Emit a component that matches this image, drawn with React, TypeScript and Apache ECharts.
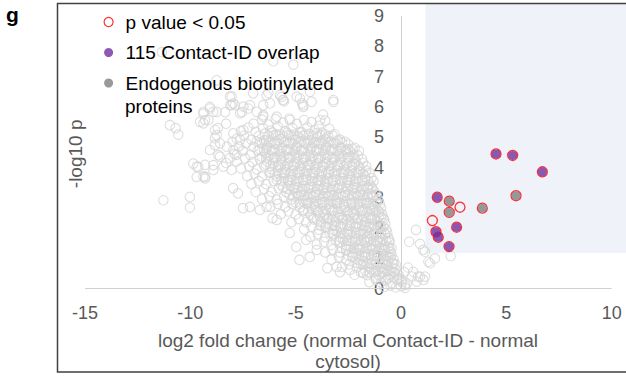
import { useEffect, useRef } from 'react';
import * as echarts from 'echarts';

// ---------- data ----------
const X_MIN = -15;
const X_LAST_TICK = 10;
const X_MAX = 10.68; // plot area continues a little past the last tick
const Y_MIN = 0;
const Y_LAST_TICK = 9;
const Y_MAX = 9.4;
const X_INTERVAL = 5;
const Y_INTERVAL = 1;

// shaded "enriched" region (lower-left corner, data units)
const SHADE_X0 = 1.16;
const SHADE_Y0 = 1.18;

const SERIES_ALL = 'all proteins';
const SERIES_SIG = 'p value < 0.05';
const SERIES_CID = '115 Contact-ID overlap';
const SERIES_ENDO = 'Endogenous biotinylated proteins';

const X_TITLE = 'log2 fold change (normal Contact-ID - normal\ncytosol)';
const Y_TITLE = '-log10 p';

// sparse outlying proteins (left / top of the cloud)
const bgSparse: [number, number][] = [
  [-11.35, 7.81], [-6.06, 7.51], [-5.11, 7.4], [-8.75, 6.88], [-8.04, 6.34], [-7.02, 6.45],
  [-6.3, 6.47], [-5.67, 6.33], [-5.55, 6.18], [-4.8, 6.28], [-4.64, 6.0], [-4.32, 6.5],
  [-3.21, 6.23], [-7.88, 6.06], [-9.07, 6.0], [-9.38, 5.78], [-9.54, 5.51], [-8.91, 5.84],
  [-10.97, 5.4], [-10.57, 5.09], [-10.7, 5.3], [-11.28, 2.92], [-10.02, 3.03], [-10.02, 2.68],
  [-9.86, 4.13], [-9.62, 4.02], [-9.7, 3.69], [-9.3, 3.64], [-8.91, 4.08], [-8.67, 4.41],
  [-8.83, 4.74], [-8.75, 5.07], [-7.97, 6.12], [-7.25, 5.95], [-6.54, 5.73], [-5.6, 6.23],
  [-4.7, 6.12], [-3.84, 5.57], [-9.3, 5.57], [-8.7, 5.3], [-8.35, 5.83], [-8.1, 6.06],
  [-7.55, 5.83], [-6.54, 6.06], [-3.7, 5.75], [-9.7, 4.03], [-9.3, 3.7], [-7.97, 3.32],
  [-7.74, 3.15], [-7.5, 2.66], [-7.17, 2.7], [-6.7, 2.6], [-6.38, 2.7], [-5.9, 2.27],
  [-6.1, 2.33], [-5.28, 1.84], [-4.97, 1.38], [-4.82, 0.95], [-4.5, 1.61], [-4.33, 1.05],
  [-4.0, 1.28], [-3.5, 0.68], [-3.06, 0.72], [-2.42, 0.62], [-1.8, 0.52], [-2.9, 0.55],
];

// looser group left of and above the main body
const bgLeftFringe: [number, number][] = [
  [-9.38, 5.84], [-9.07, 5.95], [-8.75, 5.84], [-9.14, 5.57], [-9.38, 5.46], [-8.83, 5.24],
  [-8.83, 4.97], [-8.59, 4.8], [-8.27, 4.69], [-7.96, 4.58], [-9.07, 4.58], [-8.59, 4.36],
  [-8.12, 4.31], [-7.8, 4.42], [-9.3, 4.09], [-8.91, 3.92], [-8.43, 4.03], [-8.04, 3.92],
  [-9.38, 3.7], [-7.64, 4.91], [-7.96, 5.13], [-7.48, 5.24], [-7.64, 5.79], [-7.48, 6.01],
  [-7.17, 6.06], [-8.12, 6.34], [-8.04, 6.06], [-6.85, 5.84], [-6.38, 6.39], [-6.22, 6.12],
  [-5.74, 6.39], [-5.58, 6.23], [-4.95, 6.34], [-4.64, 6.06], [-4.24, 6.17], [-3.21, 6.17],
  [-5.9, 5.68], [-5.27, 5.57], [-6.54, 5.68], [-8.3, 5.45], [-8.0, 4.85], [-8.3, 4.15],
];

// main body of the cloud
const bgBand: [number, number][] = [
  [-7.0, 5.45], [-6.6, 5.58], [-6.3, 5.42], [-5.95, 5.6], [-5.6, 5.48], [-5.3, 5.62], [-4.95, 5.44], [-4.6, 5.57], [-4.25, 5.5], [-3.9, 5.38], [-3.6, 5.55],
  [-7.6, 5.2], [-7.25, 5.32], [-6.9, 5.18], [-6.55, 5.3], [-6.2, 5.22], [-5.85, 5.35], [-5.5, 5.2], [-5.15, 5.3], [-4.8, 5.17], [-4.45, 5.33], [-4.1, 5.24], [-3.75, 5.15], [-3.4, 5.28], [-3.15, 5.1],
  [-7.8, 4.95], [-7.45, 5.05], [-7.1, 4.92], [-6.75, 5.04], [-6.4, 4.9], [-6.05, 5.06], [-5.7, 4.95], [-5.35, 5.08], [-5.0, 4.93], [-4.65, 5.05], [-4.3, 4.9], [-3.95, 5.02], [-3.6, 4.94], [-3.25, 5.06], [-2.9, 4.92],
  [-7.7, 4.7], [-7.35, 4.8], [-7.0, 4.68], [-6.7, 4.82], [-6.35, 4.72], [-6.0, 4.78], [-5.65, 4.66], [-5.3, 4.8], [-4.95, 4.7], [-4.6, 4.82], [-4.25, 4.68], [-3.9, 4.79], [-3.55, 4.7], [-3.2, 4.8], [-2.85, 4.67], [-2.5, 4.76], [-2.3, 4.62],
  [-7.9, 4.45], [-7.5, 4.55], [-7.15, 4.42], [-6.8, 4.56], [-6.45, 4.47], [-6.1, 4.53], [-5.75, 4.44], [-5.4, 4.57], [-5.05, 4.46], [-4.7, 4.55], [-4.35, 4.43], [-4.0, 4.54], [-3.65, 4.46], [-3.3, 4.56], [-2.95, 4.44], [-2.6, 4.52], [-2.25, 4.42], [-2.0, 4.55],
  [-7.8, 4.2], [-7.4, 4.3], [-7.05, 4.18], [-6.7, 4.28], [-6.35, 4.2], [-6.0, 4.32], [-5.65, 4.22], [-5.3, 4.3], [-4.95, 4.18], [-4.6, 4.28], [-4.25, 4.2], [-3.9, 4.3], [-3.55, 4.17], [-3.2, 4.27], [-2.85, 4.19], [-2.5, 4.31], [-2.15, 4.2], [-1.85, 4.28],
  [-7.6, 3.97], [-7.2, 4.05], [-6.85, 3.94], [-6.5, 4.06], [-6.15, 3.95], [-5.8, 4.04], [-5.45, 3.93], [-5.1, 4.05], [-4.75, 3.96], [-4.4, 4.07], [-4.05, 3.94], [-3.7, 4.03], [-3.35, 3.95], [-3.0, 4.06], [-2.65, 3.93], [-2.3, 4.02], [-1.95, 3.95], [-1.65, 4.05],
  [-7.3, 3.72], [-6.95, 3.8], [-6.6, 3.7], [-6.25, 3.82], [-5.9, 3.71], [-5.55, 3.79], [-5.2, 3.68], [-4.85, 3.8], [-4.5, 3.7], [-4.15, 3.78], [-3.8, 3.68], [-3.45, 3.8], [-3.1, 3.72], [-2.75, 3.79], [-2.4, 3.68], [-2.05, 3.8], [-1.7, 3.7], [-1.5, 3.82],
  [-7.1, 3.46], [-6.75, 3.55], [-6.4, 3.45], [-6.05, 3.56], [-5.7, 3.44], [-5.35, 3.54], [-5.0, 3.46], [-4.65, 3.57], [-4.3, 3.44], [-3.95, 3.55], [-3.6, 3.46], [-3.25, 3.56], [-2.9, 3.44], [-2.55, 3.53], [-2.2, 3.45], [-1.85, 3.56], [-1.5, 3.44], [-1.3, 3.55],
  [-6.9, 3.2], [-6.5, 3.3], [-6.15, 3.2], [-5.8, 3.31], [-5.45, 3.19], [-5.1, 3.29], [-4.75, 3.21], [-4.4, 3.3], [-4.05, 3.18], [-3.7, 3.28], [-3.35, 3.2], [-3.0, 3.31], [-2.65, 3.19], [-2.3, 3.28], [-1.95, 3.21], [-1.6, 3.3], [-1.25, 3.2],
  [-6.6, 2.96], [-6.25, 3.05], [-5.9, 2.94], [-5.55, 3.04], [-5.2, 2.95], [-4.85, 3.06], [-4.5, 2.93], [-4.15, 3.03], [-3.8, 2.96], [-3.45, 3.05], [-3.1, 2.94], [-2.75, 3.04], [-2.4, 2.95], [-2.05, 3.06], [-1.7, 2.94], [-1.35, 3.03], [-1.1, 2.95],
  [-6.2, 2.7], [-5.85, 2.8], [-5.5, 2.7], [-5.15, 2.79], [-4.8, 2.68], [-4.45, 2.8], [-4.1, 2.71], [-3.75, 2.78], [-3.4, 2.68], [-3.05, 2.8], [-2.7, 2.7], [-2.35, 2.79], [-2.0, 2.69], [-1.65, 2.8], [-1.3, 2.7], [-1.0, 2.78],
  [-5.7, 2.46], [-5.35, 2.55], [-5.0, 2.45], [-4.65, 2.56], [-4.3, 2.44], [-3.95, 2.54], [-3.6, 2.46], [-3.25, 2.56], [-2.9, 2.44], [-2.55, 2.53], [-2.2, 2.46], [-1.85, 2.55], [-1.5, 2.44], [-1.2, 2.54], [-0.9, 2.46],
  [-5.2, 2.2], [-4.85, 2.3], [-4.5, 2.2], [-4.15, 2.29], [-3.8, 2.19], [-3.45, 2.3], [-3.1, 2.21], [-2.75, 2.28], [-2.4, 2.18], [-2.05, 2.3], [-1.7, 2.2], [-1.4, 2.29], [-1.1, 2.2], [-0.8, 2.28],
  [-4.6, 1.96], [-4.25, 2.05], [-3.9, 1.95], [-3.55, 2.04], [-3.2, 1.94], [-2.85, 2.05], [-2.5, 1.96], [-2.15, 2.04], [-1.8, 1.94], [-1.5, 2.05], [-1.2, 1.95], [-0.95, 2.03], [-0.7, 1.96],
  [-4.3, 1.72], [-3.95, 1.8], [-3.6, 1.7], [-3.25, 1.8], [-2.9, 1.7], [-2.55, 1.79], [-2.2, 1.69], [-1.9, 1.8], [-1.6, 1.71], [-1.3, 1.79], [-1.0, 1.7], [-0.75, 1.8], [-0.6, 1.68],
  [-4.0, 1.46], [-3.65, 1.55], [-3.3, 1.45], [-2.95, 1.54], [-2.6, 1.44], [-2.3, 1.55], [-2.0, 1.46], [-1.7, 1.54], [-1.4, 1.44], [-1.1, 1.55], [-0.8, 1.45], [-0.55, 1.54],
  [-3.6, 1.2], [-3.25, 1.3], [-2.9, 1.2], [-2.6, 1.29], [-2.3, 1.19], [-2.0, 1.3], [-1.7, 1.2], [-1.4, 1.28], [-1.1, 1.19], [-0.8, 1.3], [-0.5, 1.2],
  [-3.3, 0.96], [-2.95, 1.05], [-2.6, 0.95], [-2.3, 1.04], [-2.0, 0.94], [-1.7, 1.05], [-1.4, 0.96], [-1.1, 1.04], [-0.85, 0.94], [-0.6, 1.05], [-0.35, 0.96],
  [-2.8, 0.72], [-2.45, 0.8], [-2.1, 0.7], [-1.8, 0.79], [-1.5, 0.7], [-1.2, 0.8], [-0.95, 0.71], [-0.7, 0.79], [-0.45, 0.7], [-0.25, 0.8],
  [-2.2, 0.46], [-1.9, 0.55], [-1.6, 0.45], [-1.3, 0.54], [-1.05, 0.44], [-0.8, 0.55], [-0.55, 0.46], [-0.3, 0.54], [-0.1, 0.45],
  [-1.5, 0.22], [-1.2, 0.3], [-0.95, 0.2], [-0.7, 0.29], [-0.45, 0.19], [-0.2, 0.3], [0.05, 0.22],
  [-0.8, 0.06], [-0.5, 0.1], [-0.25, 0.04], [0.0, 0.08], [0.2, 0.03],
];

// densest core of the cloud
const bgCore: [number, number][] = [
  [-6.45, 5.12], [-6.1, 5.16], [-5.75, 5.1], [-5.4, 5.15], [-5.05, 5.09], [-4.7, 5.16], [-4.35, 5.11], [-4.0, 5.14], [-3.6, 5.1],
  [-6.85, 4.86], [-6.5, 4.9], [-6.15, 4.84], [-5.8, 4.9], [-5.45, 4.85], [-5.1, 4.91], [-4.75, 4.86], [-4.4, 4.89], [-4.05, 4.84], [-3.7, 4.9], [-3.35, 4.86], [-3.0, 4.9], [-2.65, 4.85],
  [-6.7, 4.6], [-6.35, 4.65], [-6.0, 4.59], [-5.65, 4.64], [-5.3, 4.6], [-4.95, 4.65], [-4.6, 4.58], [-4.25, 4.63], [-3.9, 4.6], [-3.55, 4.65], [-3.2, 4.59], [-2.85, 4.64], [-2.5, 4.6], [-2.2, 4.65],
  [-6.6, 4.35], [-6.25, 4.4], [-5.9, 4.34], [-5.55, 4.39], [-5.2, 4.36], [-4.85, 4.41], [-4.5, 4.34], [-4.15, 4.38], [-3.8, 4.35], [-3.45, 4.4], [-3.1, 4.33], [-2.75, 4.39], [-2.4, 4.36], [-2.05, 4.4],
  [-6.4, 4.1], [-6.05, 4.15], [-5.7, 4.09], [-5.35, 4.14], [-5.0, 4.1], [-4.65, 4.15], [-4.3, 4.08], [-3.95, 4.14], [-3.6, 4.11], [-3.25, 4.16], [-2.9, 4.09], [-2.55, 4.14], [-2.2, 4.1], [-1.8, 4.15],
  [-6.2, 3.85], [-5.85, 3.9], [-5.5, 3.84], [-5.15, 3.89], [-4.8, 3.86], [-4.45, 3.91], [-4.1, 3.84], [-3.75, 3.88], [-3.4, 3.85], [-3.05, 3.9], [-2.7, 3.84], [-2.35, 3.89], [-2.0, 3.86], [-1.65, 3.9],
  [-5.9, 3.6], [-5.55, 3.65], [-5.2, 3.59], [-4.85, 3.64], [-4.5, 3.6], [-4.15, 3.65], [-3.8, 3.58], [-3.45, 3.63], [-3.1, 3.6], [-2.75, 3.65], [-2.4, 3.59], [-2.05, 3.64], [-1.7, 3.6], [-1.4, 3.65],
  [-5.6, 3.35], [-5.25, 3.4], [-4.9, 3.34], [-4.55, 3.39], [-4.2, 3.36], [-3.85, 3.41], [-3.5, 3.34], [-3.15, 3.38], [-2.8, 3.35], [-2.45, 3.4], [-2.1, 3.33], [-1.75, 3.39], [-1.4, 3.36],
  [-5.3, 3.1], [-4.95, 3.15], [-4.6, 3.09], [-4.25, 3.14], [-3.9, 3.1], [-3.55, 3.15], [-3.2, 3.08], [-2.85, 3.13], [-2.5, 3.1], [-2.15, 3.15], [-1.8, 3.09], [-1.45, 3.14], [-1.15, 3.1],
  [-5.0, 2.85], [-4.65, 2.9], [-4.3, 2.84], [-3.95, 2.89], [-3.6, 2.86], [-3.25, 2.91], [-2.9, 2.84], [-2.55, 2.88], [-2.2, 2.85], [-1.85, 2.9], [-1.5, 2.84], [-1.15, 2.89],
  [-4.6, 2.6], [-4.25, 2.65], [-3.9, 2.59], [-3.55, 2.64], [-3.2, 2.6], [-2.85, 2.65], [-2.5, 2.58], [-2.15, 2.63], [-1.8, 2.6], [-1.45, 2.65], [-1.1, 2.59], [-0.95, 2.66],
  [-4.2, 2.35], [-3.85, 2.4], [-3.5, 2.34], [-3.15, 2.39], [-2.8, 2.36], [-2.45, 2.41], [-2.1, 2.34], [-1.75, 2.38], [-1.4, 2.35], [-1.05, 2.4], [-0.85, 2.34],
  [-3.8, 2.1], [-3.45, 2.15], [-3.1, 2.09], [-2.75, 2.14], [-2.4, 2.1], [-2.05, 2.15], [-1.7, 2.08], [-1.35, 2.13], [-1.0, 2.1], [-0.75, 2.15],
  [-3.4, 1.85], [-3.05, 1.9], [-2.7, 1.84], [-2.35, 1.89], [-2.0, 1.86], [-1.65, 1.91], [-1.3, 1.84], [-0.95, 1.88], [-0.65, 1.85],
  [-3.1, 1.6], [-2.75, 1.65], [-2.4, 1.59], [-2.05, 1.64], [-1.75, 1.6], [-1.45, 1.65], [-1.15, 1.58], [-0.85, 1.63], [-0.55, 1.6],
  [-2.8, 1.35], [-2.45, 1.4], [-2.1, 1.34], [-1.8, 1.39], [-1.5, 1.36], [-1.2, 1.41], [-0.9, 1.34], [-0.6, 1.38], [-0.45, 1.33],
  [-2.5, 1.1], [-2.15, 1.15], [-1.85, 1.09], [-1.55, 1.14], [-1.25, 1.1], [-0.95, 1.15], [-0.7, 1.08], [-0.45, 1.13],
  [-2.1, 0.85], [-1.8, 0.9], [-1.5, 0.84], [-1.2, 0.89], [-0.9, 0.86], [-0.6, 0.91], [-0.35, 0.84],
  [-1.7, 0.6], [-1.4, 0.65], [-1.1, 0.59], [-0.8, 0.64], [-0.5, 0.6], [-0.25, 0.65],
  [-1.2, 0.35], [-0.9, 0.4], [-0.6, 0.34], [-0.35, 0.39], [-0.1, 0.35],
];

// extra proteins filling the solid centre of the cloud
const bgCenter: [number, number][] = [
  [-6.28, 5.04], [-5.93, 5.08], [-5.58, 5.03], [-5.23, 5.07], [-4.88, 5.02], [-4.53, 5.08], [-4.18, 5.04], [-3.83, 5.07], [-3.45, 5.03],
  [-6.6, 4.8], [-6.25, 4.83], [-5.9, 4.79], [-5.55, 4.84], [-5.2, 4.8], [-4.85, 4.83], [-4.5, 4.78], [-4.15, 4.82], [-3.8, 4.8], [-3.45, 4.84], [-3.1, 4.79], [-2.8, 4.83],
  [-6.5, 4.55], [-6.15, 4.58], [-5.8, 4.54], [-5.45, 4.59], [-5.1, 4.55], [-4.75, 4.58], [-4.4, 4.53], [-4.05, 4.57], [-3.7, 4.55], [-3.35, 4.59], [-3.0, 4.54], [-2.65, 4.58], [-2.4, 4.53],
  [-6.4, 4.3], [-6.05, 4.33], [-5.7, 4.29], [-5.35, 4.34], [-5.0, 4.3], [-4.65, 4.33], [-4.3, 4.28], [-3.95, 4.32], [-3.6, 4.3], [-3.25, 4.34], [-2.9, 4.29], [-2.55, 4.33], [-2.2, 4.3],
  [-6.2, 4.05], [-5.85, 4.08], [-5.5, 4.04], [-5.15, 4.09], [-4.8, 4.05], [-4.45, 4.08], [-4.1, 4.03], [-3.75, 4.07], [-3.4, 4.05], [-3.05, 4.09], [-2.7, 4.04], [-2.35, 4.08], [-2.0, 4.05],
  [-6.0, 3.8], [-5.65, 3.83], [-5.3, 3.79], [-4.95, 3.84], [-4.6, 3.8], [-4.25, 3.83], [-3.9, 3.78], [-3.55, 3.82], [-3.2, 3.8], [-2.85, 3.84], [-2.5, 3.79], [-2.15, 3.83], [-1.8, 3.8],
  [-5.7, 3.55], [-5.35, 3.58], [-5.0, 3.54], [-4.65, 3.59], [-4.3, 3.55], [-3.95, 3.58], [-3.6, 3.53], [-3.25, 3.57], [-2.9, 3.55], [-2.55, 3.59], [-2.2, 3.54], [-1.85, 3.58], [-1.55, 3.55],
  [-5.4, 3.3], [-5.05, 3.33], [-4.7, 3.29], [-4.35, 3.34], [-4.0, 3.3], [-3.65, 3.33], [-3.3, 3.28], [-2.95, 3.32], [-2.6, 3.3], [-2.25, 3.34], [-1.9, 3.29], [-1.55, 3.33], [-1.35, 3.3],
  [-5.1, 3.05], [-4.75, 3.08], [-4.4, 3.04], [-4.05, 3.09], [-3.7, 3.05], [-3.35, 3.08], [-3.0, 3.03], [-2.65, 3.07], [-2.3, 3.05], [-1.95, 3.09], [-1.6, 3.04], [-1.3, 3.08],
  [-4.8, 2.8], [-4.45, 2.83], [-4.1, 2.79], [-3.75, 2.84], [-3.4, 2.8], [-3.05, 2.83], [-2.7, 2.78], [-2.35, 2.82], [-2.0, 2.8], [-1.65, 2.84], [-1.35, 2.79], [-1.15, 2.83],
  [-4.4, 2.55], [-4.05, 2.58], [-3.7, 2.54], [-3.35, 2.59], [-3.0, 2.55], [-2.65, 2.58], [-2.3, 2.53], [-1.95, 2.57], [-1.6, 2.55], [-1.3, 2.59], [-1.05, 2.54],
  [-4.0, 2.3], [-3.65, 2.33], [-3.3, 2.29], [-2.95, 2.34], [-2.6, 2.3], [-2.25, 2.33], [-1.9, 2.28], [-1.55, 2.32], [-1.25, 2.3], [-0.95, 2.34],
  [-3.6, 2.05], [-3.25, 2.08], [-2.9, 2.04], [-2.55, 2.09], [-2.2, 2.05], [-1.85, 2.08], [-1.55, 2.03], [-1.25, 2.07], [-0.85, 2.05],
  [-3.2, 1.8], [-2.85, 1.83], [-2.5, 1.79], [-2.15, 1.84], [-1.8, 1.8], [-1.5, 1.83], [-1.2, 1.78], [-0.95, 1.82], [-0.75, 1.8],
  [-2.9, 1.55], [-2.55, 1.58], [-2.2, 1.54], [-1.9, 1.59], [-1.6, 1.55], [-1.3, 1.58], [-1.0, 1.53], [-0.7, 1.57],
  [-2.6, 1.3], [-2.25, 1.33], [-1.95, 1.29], [-1.65, 1.34], [-1.35, 1.3], [-1.05, 1.33], [-0.75, 1.28], [-0.55, 1.32],
  [-2.3, 1.05], [-2.0, 1.08], [-1.7, 1.04], [-1.4, 1.09], [-1.1, 1.05], [-0.8, 1.08], [-0.5, 1.03],
  [-1.9, 0.8], [-1.6, 0.83], [-1.3, 0.79], [-1.0, 0.84], [-0.7, 0.8], [-0.4, 0.83],
  [-1.5, 0.55], [-1.2, 0.58], [-0.9, 0.54], [-0.6, 0.59], [-0.35, 0.55],
];

// non-significant proteins with positive fold change
const bgRight: [number, number][] = [
  [0.71, 1.94], [0.39, 1.55], [0.9, 1.48], [1.06, 1.28], [1.14, 1.22], [1.38, 0.84], [1.3, 0.89],
  [1.61, 1.0], [2.36, 1.08], [0.58, 0.56], [0.51, 0.4], [0.9, 0.4], [1.06, 0.29], [0.75, 0.23],
  [0.19, 0.12], [0.03, 0.29], [0.81, 0.4], [1.14, 0.4], [0.27, 0.18], [0.33, 0.7], [0.15, 0.55],
];

// significant proteins
const contactIdOverlap: [number, number][] = [
  [1.72, 3.02], [2.64, 2.03], [1.66, 1.88], [1.77, 1.7], [2.28, 1.39], [4.51, 4.45], [5.3, 4.4], [6.71, 3.86],
];
const endogenousBiotinylated: [number, number][] = [
  [2.29, 2.89], [2.29, 2.52], [3.86, 2.66], [5.46, 3.07],
];
const significantOnly: [number, number][] = [
  [2.8, 2.69], [1.49, 2.25],
];

// ---------- styles ----------
const FONT = "'Liberation Sans', Arial, Helvetica, sans-serif";
const AXIS_TEXT = '#595959';
const AXIS_LINE = '#d0d0d0';
const BG_POINT = '#d6d6d6';
const RED = '#ff0000';
const PURPLE = '#7030a0';
const GREY = '#7f7f7f';
const SHADE = '#eff2f8';

const GRID_LEFT = 85;
const Y_AXIS_SHIFT = 316; // the y axis sits at x = 0, 316 px right of the grid's left edge

export default function App() {
  const ref = useRef<HTMLDivElement>(null);

  useEffect(() => {
    if (!ref.current) return;
    const chart = echarts.init(ref.current, undefined, { renderer: 'svg' });

    const option: any = {
      animation: false,
      backgroundColor: '#ffffff',
      textStyle: { fontFamily: FONT },
      grid: {
        left: GRID_LEFT,
        right: 0,
        top: 4,
        bottom: 88.3,
        containLabel: false,
        outerBoundsMode: 'none',
      },
      xAxis: {
        type: 'value',
        position: 'bottom',
        min: X_MIN,
        max: X_MAX,
        interval: X_INTERVAL,
        axisLine: { show: false, onZero: false },
        axisTick: { show: false },
        splitLine: { show: false },
        axisLabel: {
          color: AXIS_TEXT,
          fontSize: 18,
          fontFamily: FONT,
          margin: 15,
          formatter: (v: number) => (v % X_INTERVAL === 0 && v <= X_LAST_TICK ? String(v) : ''),
        },
        name: X_TITLE,
        nameLocation: 'middle',
        nameGap: 41,
        nameTextStyle: {
          color: AXIS_TEXT,
          fontSize: 19,
          lineHeight: 21,
          fontFamily: FONT,
          padding: [0, 15, 0, 0],
        },
      },
      yAxis: {
        type: 'value',
        position: 'left',
        offset: -Y_AXIS_SHIFT,
        min: Y_MIN,
        max: Y_MAX,
        interval: Y_INTERVAL,
        axisLine: { show: false, onZero: false },
        axisTick: { show: false },
        splitLine: { show: false },
        axisLabel: {
          color: AXIS_TEXT,
          fontSize: 18,
          fontFamily: FONT,
          margin: 17,
          formatter: (v: number) => (Number.isInteger(v) && v <= Y_LAST_TICK ? String(v) : ''),
        },
        name: Y_TITLE,
        nameLocation: 'middle',
        nameGap: 316,
        nameTextStyle: {
          color: AXIS_TEXT,
          fontSize: 19,
          fontFamily: FONT,
          padding: [0, 15, 0, 0],
        },
      },
      legend: {
        orient: 'vertical',
        left: 98.5,
        top: 6,
        itemWidth: 24,
        itemHeight: 9,
        itemGap: 8.5,
        selectedMode: false,
        textStyle: { color: '#000000', fontSize: 19, lineHeight: 22, fontFamily: FONT },
        formatter: (n: string) => (n === SERIES_ENDO ? 'Endogenous biotinylated' : n),
        data: [
          { name: SERIES_SIG, icon: 'circle', itemStyle: { color: 'rgba(0,0,0,0)', borderColor: RED, borderWidth: 1.2 } },
          { name: SERIES_CID, icon: 'circle', itemStyle: { color: PURPLE, borderWidth: 0 } },
          { name: SERIES_ENDO, icon: 'circle', itemStyle: { color: GREY, borderWidth: 0 } },
        ],
      },
      graphic: [
        {
          type: 'text',
          left: 6,
          top: 4,
          style: { text: 'g', fontSize: 21, fontWeight: 'bold', fill: '#000000', fontFamily: FONT },
          z: 100,
        },
        {
          type: 'text',
          x: 125,
          y: 106,
          style: {
            text: 'proteins',
            fontSize: 19,
            fill: '#000000',
            fontFamily: FONT,
            verticalAlign: 'middle',
            align: 'left',
          },
          z: 100,
        },
        {
          type: 'rect',
          shape: { x: 57.5, y: 3.5, width: 620, height: 368.5 },
          style: { fill: 'none', stroke: '#404040', lineWidth: 1.5 },
          silent: true,
          z: 100,
        },
      ],
      series: [
        {
          name: SERIES_ALL,
          type: 'scatter',
          silent: true,
          symbol: 'circle',
          symbolSize: 9.5,
          itemStyle: { color: 'rgba(0,0,0,0)', borderColor: BG_POINT, borderWidth: 1.1 },
          data: [...bgSparse, ...bgLeftFringe, ...bgBand, ...bgCore, ...bgCenter, ...bgRight],
          markArea: {
            silent: true,
            itemStyle: { color: SHADE },
            data: [[{ coord: [SHADE_X0, SHADE_Y0] }, { coord: [X_MAX, Y_MAX] }]],
          },
          markLine: {
            silent: true,
            symbol: 'none',
            label: { show: false },
            lineStyle: { color: AXIS_LINE, width: 1, type: 'solid' },
            emphasis: { disabled: true },
            data: [
              [{ coord: [X_MIN, 0] }, { coord: [X_LAST_TICK, 0] }],
              [{ coord: [0, 0] }, { coord: [0, Y_LAST_TICK] }],
            ],
          },
        },
        {
          name: SERIES_SIG,
          type: 'scatter',
          symbol: 'circle',
          symbolSize: 10,
          itemStyle: { color: 'rgba(0,0,0,0)', borderColor: RED, borderWidth: 1.3 },
          data: [...contactIdOverlap, ...endogenousBiotinylated, ...significantOnly],
        },
        {
          name: SERIES_CID,
          type: 'scatter',
          symbol: 'circle',
          symbolSize: 9,
          itemStyle: { color: PURPLE },
          data: contactIdOverlap,
        },
        {
          name: SERIES_ENDO,
          type: 'scatter',
          symbol: 'circle',
          symbolSize: 9,
          itemStyle: { color: GREY },
          data: endogenousBiotinylated,
        },
      ],
    };

    chart.setOption(option);
    return () => chart.dispose();
  }, []);

  return (
    <div
      ref={ref}
      style={{ position: 'absolute', left: 0, top: 0, width: 626, height: 377 }}
    />
  );
}
